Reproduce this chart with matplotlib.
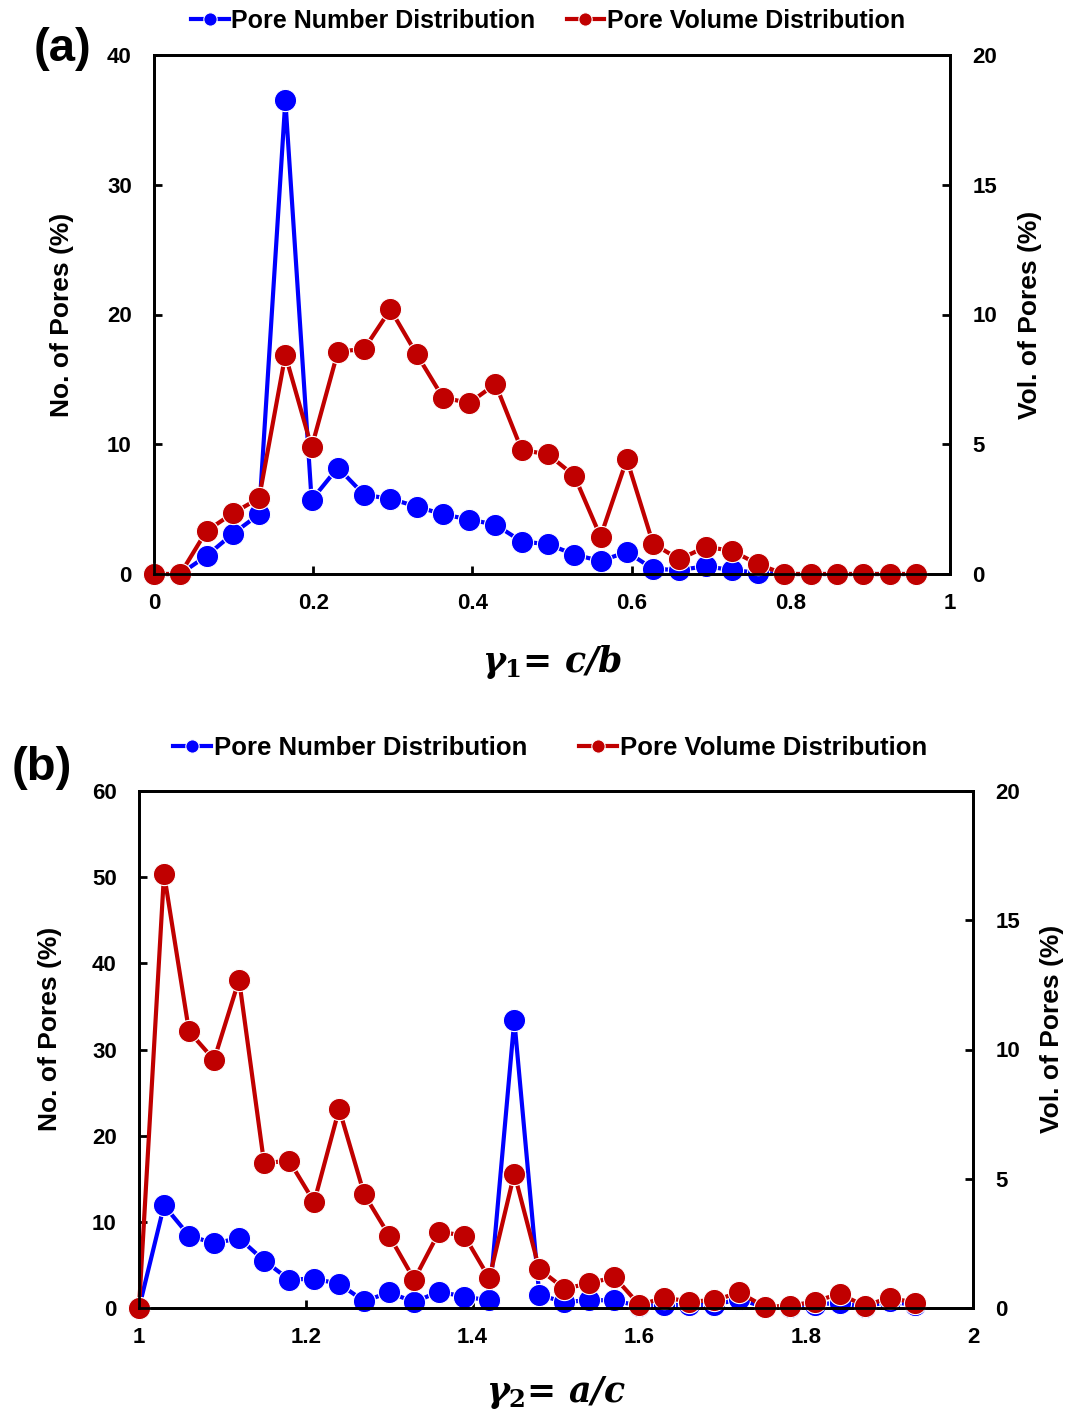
"""Pore number / pore volume distributions vs. shape ratios (two panels)."""

import numpy as np
import matplotlib
matplotlib.use("Agg")
import matplotlib.pyplot as plt

# ---- data ----
# panel (a): gamma1 = c/b
gamma1 = np.round(np.arange(30) * 0.033, 3)
number_a = [0, 0, 1.4, 3.1, 4.6, 36.5, 5.7, 8.2, 6.1, 5.8, 5.2, 4.6, 4.2, 3.8, 2.5,
            2.3, 1.5, 1.0, 1.7, 0.4, 0.3, 0.6, 0.3, 0.1, 0, 0, 0, 0, 0, 0]
volume_a = [0, 0, 1.66, 2.34, 2.92, 8.44, 4.88, 8.57, 8.67, 10.2, 8.47, 6.8, 6.59, 7.32, 4.78,
            4.61, 3.79, 1.44, 4.42, 1.16, 0.57, 1.04, 0.9, 0.37, 0, 0, 0, 0, 0, 0]

# panel (b): gamma2 = a/c
gamma2 = np.round(1 + np.arange(32) * 0.03, 2)
number_b = [0, 11.9, 8.4, 7.5, 8.1, 5.5, 3.3, 3.4, 2.8, 0.8, 1.8, 0.7, 1.9, 1.3, 0.9, 33.4,
            1.5, 0.7, 0.9, 0.9, 0.2, 0.4, 0.3, 0.4, 1.0, 0.1, 0.1, 0.4, 0.6, 0.1, 0.8, 0.3]
volume_b = [0, 16.8, 10.7, 9.6, 12.7, 5.6, 5.7, 4.1, 7.7, 4.4, 2.8, 1.1, 2.95, 2.8, 1.15, 5.2,
            1.5, 0.75, 0.95, 1.2, 0.12, 0.4, 0.25, 0.3, 0.6, 0.05, 0.08, 0.25, 0.55, 0.08, 0.4, 0.2]

BLUE = "#0000FF"
RED = "#C00000"
W, H = 1069, 1414

plt.rcParams['font.family'] = ['Liberation Sans', 'DejaVu Sans']
plt.rcParams['font.weight'] = 'bold'
# math part of the x labels: italic gamma, upright bold subscript
plt.rcParams['mathtext.fontset'] = 'custom'
plt.rcParams['mathtext.it'] = 'DejaVu Serif:italic:bold'
plt.rcParams['mathtext.rm'] = 'DejaVu Serif:bold'
plt.rcParams['mathtext.bf'] = 'DejaVu Serif:bold'


def panel(fig, box, x, num, vol, xlim, xticks, xticklabels, ylim_l, yticks_l,
          ylim_r, yticks_r, xlabel, tag, tag_xy, leg_xy, leg_fs, leg_gap,
          xlab_y, ylab_l, ylab_r, ylab_y):
    # box = (left, bottom, right, top) in pixels from the top-left corner
    l, b, r, t = box
    ax = fig.add_axes([l / W, 1 - b / H, (r - l) / W, (b - t) / H])
    ax2 = ax.twinx()

    style = dict(linewidth=3, markersize=16, markeredgecolor='white',
                 markeredgewidth=0.8, clip_on=False)
    h1, = ax.plot(x, num, '-o', color=BLUE, label='Pore Number Distribution', **style)
    h2, = ax2.plot(x, vol, '-o', color=RED, label='Pore Volume Distribution', **style)

    ax.set_xlim(*xlim)
    ax.set_ylim(*ylim_l)
    ax2.set_ylim(*ylim_r)
    ax.set_xticks(xticks)
    ax.set_xticklabels(xticklabels)
    ax.set_yticks(yticks_l)
    ax2.set_yticks(yticks_r)

    for a in (ax, ax2):
        for s in a.spines.values():
            s.set_linewidth(2)
        a.tick_params(direction='in', length=6, width=2, labelsize=16, pad=16)
    ax.tick_params(axis='x', pad=14)

    ax.set_ylabel('No. of Pores (%)', fontsize=19, fontweight='bold', va='center')
    ax.yaxis.set_label_coords(ylab_l, ylab_y)
    ax2.set_ylabel('Vol. of Pores (%)', fontsize=19, fontweight='bold', va='center')
    ax2.yaxis.set_label_coords(ylab_r, ylab_y)
    ax.set_xlabel(xlabel, fontsize=25, fontweight='bold', style='italic',
                  family=['DejaVu Serif'], va='center')
    ax.xaxis.set_label_coords(0.5, xlab_y)

    leg = fig.legend(handles=[h1, h2], loc='center',
                     bbox_to_anchor=(leg_xy[0] / W, 1 - leg_xy[1] / H), ncol=2,
                     frameon=False, fontsize=leg_fs, markerscale=0.6,
                     handlelength=1.5, handletextpad=0.1, columnspacing=leg_gap,
                     borderpad=0, borderaxespad=0)
    for txt in leg.get_texts():
        txt.set_fontweight('bold')

    fig.text(tag_xy[0] / W, 1 - tag_xy[1] / H, tag, fontsize=34, fontweight='bold',
             ha='center', va='center')


fig = plt.figure(figsize=(W / 100, H / 100), dpi=100)

panel(fig, (154, 574, 950, 55), gamma1, number_a, volume_a,
      (0, 1), [0, 0.2, 0.4, 0.6, 0.8, 1], ['0', '0.2', '0.4', '0.6', '0.8', '1'],
      (0, 40), [0, 10, 20, 30, 40], (0, 20), [0, 5, 10, 15, 20],
      r'$\gamma_{\mathbf{1}}$= c/b', '(a)', (62, 49), (548, 21), 18, 1.25,
      -0.17, -0.1156, 1.1005, 0.5)

panel(fig, (139, 1308, 973, 791), gamma2, number_b, volume_b,
      (1, 2), [1, 1.2, 1.4, 1.6, 1.8, 2], ['1', '1.2', '1.4', '1.6', '1.8', '2'],
      (0, 60), [0, 10, 20, 30, 40, 50, 60], (0, 20), [0, 5, 10, 15, 20],
      r'$\gamma_{\mathbf{2}}$= a/c', '(b)', (42, 768), (550, 748), 18.5, 2.0,
      -0.163, -0.1067, 1.0947, 0.54)

fig.savefig('out.png', dpi=100)
